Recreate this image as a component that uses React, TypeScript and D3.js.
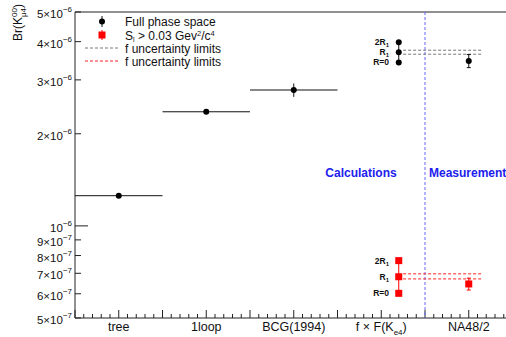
import React from "react";
import * as d3 from "d3";

// categories on the x axis (bin centres at 0.5, 1.5, ...)
const categories = ["tree", "1loop", "BCG(1994)", "fxF", "NA48/2"];

// full phase space calculations (whole-bin horizontal bars)
const calcX = [0.5, 1.5, 2.5];
const calcY = [1.255e-6, 2.36e-6, 2.78e-6];
const calcErr = [0, 0, 0.14e-6];

// f x F(Ke4) for R = 0, R1, 2R1
const rLabels = ["R=0", "R1", "2R1"];
const rX = 3.7;
const rFull = [3.42e-6, 3.69e-6, 3.98e-6];
const rCut = [6.02e-7, 6.82e-7, 7.7e-7];

// NA48/2 measurement
const measX = 4.5;
const measFull = 3.46e-6;
const measFullErr = 0.17e-6;
const measCut = 6.46e-7;
const measCutErr = 0.29e-7;

// f uncertainty limits
const limX = [3.75, 4.66];
const limFull = [3.64e-6, 3.75e-6];
const limCut = [6.71e-7, 6.97e-7];

const yTicks = [5e-7, 6e-7, 7e-7, 8e-7, 9e-7, 1e-6, 2e-6, 3e-6, 4e-6, 5e-6];

const W = 506;
const H = 337;
const FONT = "'Liberation Sans', Arial, Helvetica, sans-serif";
const BLUE = "#2020ee";

const x = d3.scaleLinear().domain([0, 5]).range([75, 512.5]);
const y = d3.scaleLog().domain([5e-7, 5e-6]).range([318, 12]);

function tickLabel(v: number) {
  const exp = Math.floor(Math.log10(v) + 1e-9);
  const mant = Math.round(v / Math.pow(10, exp));
  return { mant, exp };
}

export default function App() {
  const x0 = x(0);
  const yb = y(5e-7);
  const yt = y(5e-6);
  const minor = d3.range(0, 51).map((i) => i / 10);

  return (
    <svg
      width={W}
      height={H}
      style={{ position: "fixed", left: 0, top: 0, background: "#fff" }}
      fontFamily={FONT}
    >
      {/* frame */}
      <line x1={x0} x2={W} y1={yt} y2={yt} stroke="#222" />
      <line x1={x0} x2={W} y1={yb} y2={yb} stroke="#222" />
      <line x1={x0} x2={x0} y1={yt} y2={yb} stroke="#222" />

      {/* x ticks */}
      {minor.map((t, i) => (
        <line
          key={"xt" + i}
          x1={x(t)}
          x2={x(t)}
          y1={yb}
          y2={yb - (i % 5 === 0 ? 8 : 4)}
          stroke="#222"
        />
      ))}

      {/* y ticks + labels */}
      {yTicks.map((v) => {
        const { mant, exp } = tickLabel(v);
        const yy = y(v);
        return (
          <g key={"yt" + v}>
            <line x1={x0} x2={x0 + (v === 1e-6 ? 13 : 6)} y1={yy} y2={yy} stroke="#222" />
            <text x={72} y={yy + 6} textAnchor="end" fontSize={11.5} fill="#111">
              <tspan>{mant === 1 ? "10" : `${mant}×10`}</tspan>
              <tspan dy={-6} fontSize={8}>{"−" + -exp}</tspan>
            </text>
          </g>
        );
      })}

      {/* y title */}
      <text transform="translate(22,4) rotate(-90)" textAnchor="end" fontSize={12} fill="#111">
        <tspan>Br(K</tspan>
        <tspan dy={-5} fontSize={8}>00</tspan>
        <tspan dx={-9} dy={9} fontSize={8}>μ4</tspan>
        <tspan dy={-4}>)</tspan>
      </text>

      {/* x labels */}
      {categories.map((c, i) =>
        c === "fxF" ? (
          <text key={c} x={x(i + 0.5)} y={331} textAnchor="middle" fontSize={12.5} fill="#111">
            <tspan>f × F(K</tspan>
            <tspan dy={4} fontSize={8}>e4</tspan>
            <tspan dy={-4}>)</tspan>
          </text>
        ) : (
          <text key={c} x={x(i + 0.5)} y={331} textAnchor="middle" fontSize={12.5} fill="#111">
            {c}
          </text>
        )
      )}

      {/* divider */}
      <line x1={x(4)} x2={x(4)} y1={yt} y2={yb} stroke="#6666ff" strokeDasharray="3,2" />
      <text x={361} y={177} textAnchor="middle" fontSize={12} fontWeight="bold" fill={BLUE}>
        Calculations
      </text>
      <text x={429} y={177} fontSize={12} fontWeight="bold" fill={BLUE}>
        Measurement
      </text>

      {/* uncertainty limits */}
      {limFull.map((v, i) => (
        <line key={"lf" + i} x1={x(limX[0])} x2={x(limX[1])} y1={y(v)} y2={y(v)} stroke="#777" strokeDasharray="3,2" />
      ))}
      {limCut.map((v, i) => (
        <line key={"lc" + i} x1={x(limX[0])} x2={x(limX[1])} y1={y(v)} y2={y(v)} stroke="#ff2020" strokeDasharray="3,2" />
      ))}

      {/* calculations, full phase space */}
      {calcX.map((cx, i) => (
        <g key={"c" + i}>
          <line x1={x(cx - 0.5)} x2={x(cx + 0.5)} y1={y(calcY[i])} y2={y(calcY[i])} stroke="#111" />
          {calcErr[i] > 0 && (
            <line x1={x(cx)} x2={x(cx)} y1={y(calcY[i] + calcErr[i])} y2={y(calcY[i] - calcErr[i])} stroke="#111" />
          )}
          <circle cx={x(cx)} cy={y(calcY[i])} r={3} fill="#000" />
        </g>
      ))}

      {/* f x F points */}
      <line x1={x(rX)} x2={x(rX)} y1={y(rFull[0])} y2={y(rFull[2])} stroke="#111" />
      {rFull.map((v, i) => (
        <circle key={"rf" + i} cx={x(rX)} cy={y(v)} r={3} fill="#000" />
      ))}
      <line x1={x(rX)} x2={x(rX)} y1={y(rCut[0])} y2={y(rCut[2])} stroke="#ff0000" />
      {rCut.map((v, i) => (
        <rect key={"rc" + i} x={x(rX) - 3.5} y={y(v) - 3.5} width={7} height={7} fill="#ff0000" />
      ))}
      {[rFull, rCut].map((arr, k) =>
        arr.map((v, i) => (
          <text key={"rl" + k + i} x={389} y={y(v) + 3} textAnchor="end" fontSize={8.5} fontWeight="bold" fill="#111">
            {rLabels[i] === "R=0" ? (
              "R=0"
            ) : (
              <>
                <tspan>{rLabels[i] === "2R1" ? "2R" : "R"}</tspan>
                <tspan dy={2} fontSize={6}>1</tspan>
              </>
            )}
          </text>
        ))
      )}

      {/* NA48/2 */}
      <g stroke="#111">
        <line x1={x(measX)} x2={x(measX)} y1={y(measFull + measFullErr)} y2={y(measFull - measFullErr)} />
        <line x1={x(measX) - 2} x2={x(measX) + 2} y1={y(measFull + measFullErr)} y2={y(measFull + measFullErr)} />
        <line x1={x(measX) - 2} x2={x(measX) + 2} y1={y(measFull - measFullErr)} y2={y(measFull - measFullErr)} />
      </g>
      <circle cx={x(measX)} cy={y(measFull)} r={3} fill="#000" />
      <g stroke="#ff0000">
        <line x1={x(measX)} x2={x(measX)} y1={y(measCut + measCutErr)} y2={y(measCut - measCutErr)} />
        <line x1={x(measX) - 2} x2={x(measX) + 2} y1={y(measCut + measCutErr)} y2={y(measCut + measCutErr)} />
        <line x1={x(measX) - 2} x2={x(measX) + 2} y1={y(measCut - measCutErr)} y2={y(measCut - measCutErr)} />
      </g>
      <rect x={x(measX) - 3.5} y={y(measCut) - 3.5} width={7} height={7} fill="#ff0000" />

      {/* legend */}
      <g fontSize={12} fill="#111">
        <line x1={102} x2={102} y1={16} y2={27} stroke="#111" />
        <circle cx={102} cy={21.5} r={3} fill="#000" />
        <text x={125} y={25.5}>Full phase space</text>

        <line x1={102} x2={102} y1={30} y2={40} stroke="#ff0000" />
        <rect x={98.5} y={31.5} width={7} height={7} fill="#ff0000" />
        <text x={125} y={39.5}>
          <tspan>S</tspan>
          <tspan dy={2} fontSize={7}>l</tspan>
          <tspan dy={-2}> &gt; 0.03 Gev</tspan>
          <tspan dy={-4} fontSize={7.5}>2</tspan>
          <tspan dy={4}>/c</tspan>
          <tspan dy={-4} fontSize={7.5}>4</tspan>
        </text>

        <line x1={85} x2={118} y1={48} y2={48} stroke="#777" strokeDasharray="3,2" />
        <text x={125} y={53}>f uncertainty limits</text>

        <line x1={85} x2={118} y1={61} y2={61} stroke="#ff2020" strokeDasharray="3,2" />
        <text x={125} y={66}>f uncertainty limits</text>
      </g>
    </svg>
  );
}
